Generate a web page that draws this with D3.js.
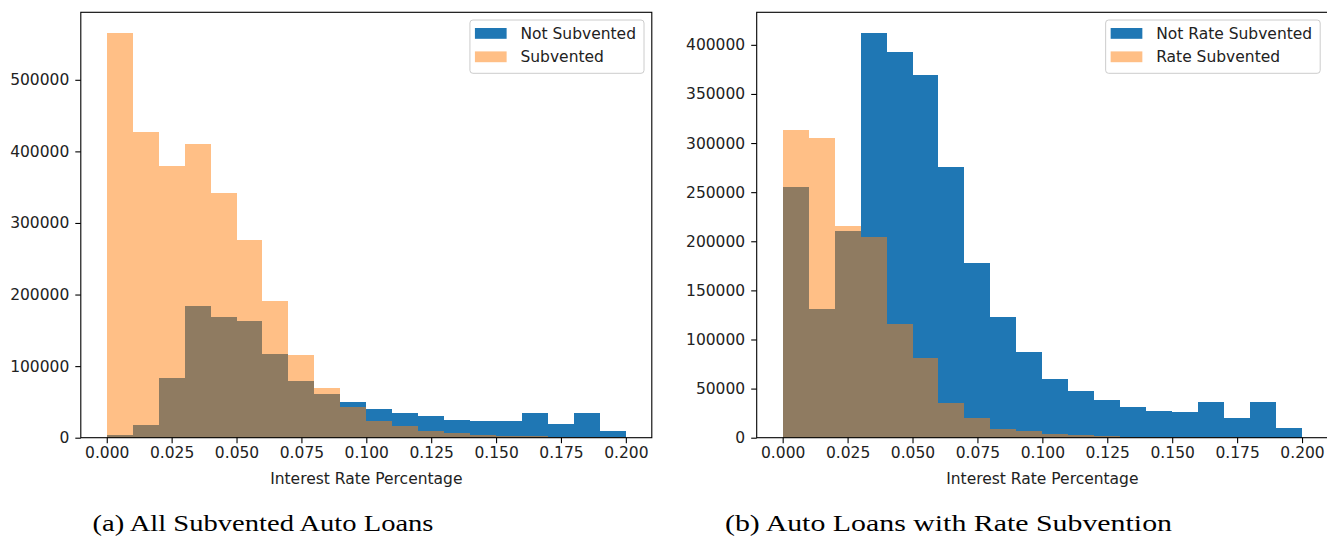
<!DOCTYPE html>
<html>
<head>
<meta charset="utf-8">
<script src="https://cdn.jsdelivr.net/npm/d3@7"></script>
<style>
  body { margin: 0; background: #fff; }
  svg { display: block; }
</style>
</head>
<body>
<svg id="fig" width="1327" height="539"></svg>
<script>
// Histogram bin edges (interest rate)
const binEdges = [0.00, 0.01, 0.02, 0.03, 0.04, 0.05, 0.06, 0.07, 0.08, 0.09, 0.10,
                  0.11, 0.12, 0.13, 0.14, 0.15, 0.16, 0.17, 0.18, 0.19, 0.20];

// (a) All subvented auto loans: counts per bin
const notSubvented = [3300, 18100, 83700, 183300, 168800, 162800, 116700, 78600, 61000, 49800,
                      40000, 34900, 30700, 25100, 23300, 23300, 34900, 19500, 34900, 9300];
const subvented    = [566000, 426400, 379900, 410000, 341700, 275700, 191000, 115300, 68900, 43200,
                      23300, 16300, 9300, 6100, 3800, 2500, 2000, 1500, 1000, 500];

// (b) Auto loans with rate subvention: counts per bin
const notRateSubvented = [255500, 131300, 210900, 412500, 392600, 369500, 275500, 178000, 122800, 86800,
                          59800, 48000, 38600, 30800, 26700, 25700, 36200, 20000, 36200, 9400];
const rateSubvented    = [313000, 304900, 215500, 204100, 116000, 80900, 35200, 20000, 8800, 6800,
                          4000, 2700, 1700, 1100, 700, 500, 400, 300, 200, 100];

// Axis ticks
const xTicks = [0, 0.025, 0.05, 0.075, 0.1, 0.125, 0.15, 0.175, 0.2];
const xTickLabels = ["0.000", "0.025", "0.050", "0.075", "0.100", "0.125", "0.150", "0.175", "0.200"];
const yTicksA = [0, 100000, 200000, 300000, 400000, 500000];
const yTicksB = [0, 50000, 100000, 150000, 200000, 250000, 300000, 350000, 400000];

const xLabel = "Interest Rate Percentage";
const legendA = ["Not Subvented", "Subvented"];
const legendB = ["Not Rate Subvented", "Rate Subvented"];
const captionA = "(a) All Subvented Auto Loans";
const captionB = "(b) Auto Loans with Rate Subvention";

const BLUE = "#1f77b4", ORANGE = "#ff7f0e";
const FONT = "DejaVu Sans", FS = 15.5;

const svg = d3.select("#fig");

const panels = [
  { x0: 80.8, x1: 651.8, top: 12.3, bottom: 437.7, blue: notSubvented, orange: subvented,
    yTicks: yTicksA, legend: legendA, caption: captionA, capX: 263, capLen: 341 },
  { x0: 756.7, x1: 1328.0, top: 12.3, bottom: 437.7, blue: notRateSubvented, orange: rateSubvented,
    yTicks: yTicksB, legend: legendB, caption: captionB, capX: 948.5, capLen: 447 }
];

panels.forEach(p => {
  const g = svg.append("g");
  const x = d3.scaleLinear().domain([-0.01, 0.21]).range([p.x0, p.x1]);
  const yMax = d3.max(p.blue.concat(p.orange)) * 1.05;
  const y = d3.scaleLinear().domain([0, yMax]).range([p.bottom, p.top]);

  const bins = d3.range(binEdges.length - 1);

  // Blue series drawn first, orange translucent series on top
  g.append("g").selectAll("rect").data(bins).join("rect")
    .attr("x", i => x(binEdges[i]))
    .attr("width", i => x(binEdges[i + 1]) - x(binEdges[i]))
    .attr("y", i => y(p.blue[i]))
    .attr("height", i => y(0) - y(p.blue[i]))
    .attr("fill", BLUE)
    .attr("shape-rendering", "crispEdges");

  g.append("g").selectAll("rect").data(bins).join("rect")
    .attr("x", i => x(binEdges[i]))
    .attr("width", i => x(binEdges[i + 1]) - x(binEdges[i]))
    .attr("y", i => y(p.orange[i]))
    .attr("height", i => y(0) - y(p.orange[i]))
    .attr("fill", ORANGE)
    .attr("fill-opacity", 0.5)
    .attr("shape-rendering", "crispEdges");

  // Axes
  const xAxis = d3.axisBottom(x).tickValues(xTicks)
    .tickFormat((d, i) => xTickLabels[i]).tickSize(5.5).tickPadding(4).tickSizeOuter(0);
  const gx = g.append("g").attr("transform", `translate(0,${p.bottom})`).call(xAxis);

  const yAxis = d3.axisLeft(y).tickValues(p.yTicks)
    .tickFormat(d3.format("d")).tickSize(5.5).tickPadding(6).tickSizeOuter(0);
  const gy = g.append("g").attr("transform", `translate(${p.x0},0)`).call(yAxis);

  [gx, gy].forEach(a => {
    a.attr("font-family", FONT).attr("font-size", FS);
    a.select(".domain").remove();
    a.selectAll(".tick line").attr("stroke", "#000").attr("stroke-width", 1.1);
    a.selectAll(".tick text").attr("fill", "#222");
  });

  // Frame (spines)
  g.append("rect")
    .attr("x", p.x0).attr("y", p.top)
    .attr("width", p.x1 - p.x0).attr("height", p.bottom - p.top)
    .attr("fill", "none").attr("stroke", "#000").attr("stroke-width", 1.1);

  // X-axis label
  g.append("text")
    .attr("x", (p.x0 + p.x1) / 2).attr("y", 483.5)
    .attr("text-anchor", "middle")
    .attr("font-family", FONT).attr("font-size", FS).attr("fill", "#222")
    .text(xLabel);

  // Legend
  const lg = g.append("g");
  const items = lg.selectAll("text").data(p.legend).join("text")
    .attr("font-family", FONT).attr("font-size", FS).attr("fill", "#222")
    .text(d => d);
  const textW = d3.max(items.nodes(), n => n.getComputedTextLength());
  const boxW = 50.5 + textW + 8;
  const boxRight = p.x1 - 7.8;
  const boxLeft = boxRight - boxW;
  const boxTop = p.top + 7.7;
  const rowY = [boxTop + 13.3, boxTop + 36.7];

  lg.insert("rect", "text")
    .attr("x", boxLeft).attr("y", boxTop)
    .attr("width", boxW).attr("height", 53.3)
    .attr("rx", 3).attr("ry", 3)
    .attr("fill", "#fff").attr("fill-opacity", 0.8)
    .attr("stroke", "#cccccc").attr("stroke-width", 1);

  lg.selectAll("rect.patch").data([BLUE, ORANGE]).join("rect")
    .attr("class", "patch")
    .attr("x", boxLeft + 5).attr("width", 31.7)
    .attr("y", (d, i) => rowY[i] - 5.3).attr("height", 10.8)
    .attr("fill", d => d)
    .attr("fill-opacity", (d, i) => i === 1 ? 0.5 : 1);

  items.attr("x", boxLeft + 50.5).attr("y", (d, i) => rowY[i] + 5.6);

  // Sub-figure caption
  svg.append("text")
    .attr("x", p.capX).attr("y", 531)
    .attr("text-anchor", "middle")
    .attr("font-family", "Liberation Serif").attr("font-size", 23.5)
    .attr("textLength", p.capLen).attr("lengthAdjust", "spacingAndGlyphs")
    .attr("fill", "#000")
    .text(p.caption);
});
</script>
</body>
</html>
